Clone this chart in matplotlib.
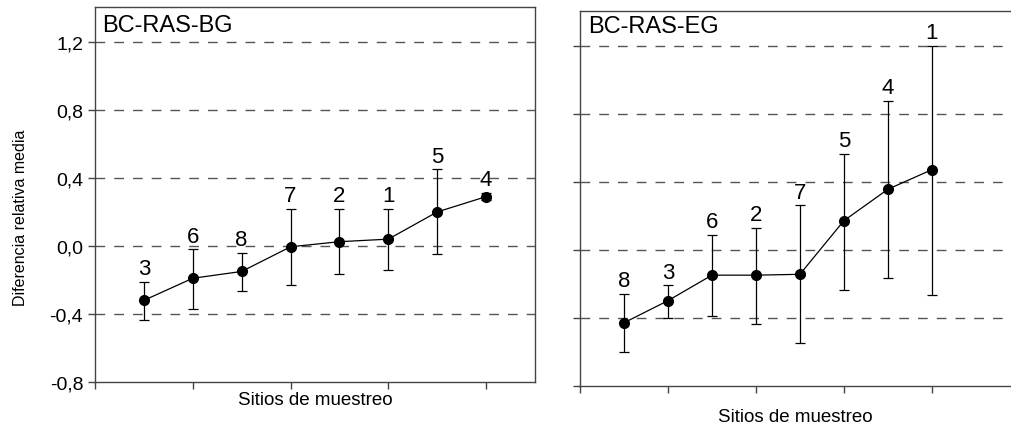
import matplotlib.pyplot as plt
import numpy as np

plt.rcParams['font.family'] = ['Liberation Sans', 'DejaVu Sans']

# datos
sitios_bg = ['3', '6', '8', '7', '2', '1', '5', '4']
media_bg = [-0.32, -0.19, -0.15, -0.005, 0.025, 0.04, 0.20, 0.29]
sup_bg = [-0.21, -0.02, -0.04, 0.22, 0.22, 0.22, 0.45, 0.31]
inf_bg = [-0.435, -0.37, -0.265, -0.23, -0.165, -0.14, -0.05, 0.27]

sitios_eg = ['8', '3', '6', '2', '7', '5', '4', '1']
media_eg = [-0.43, -0.30, -0.15, -0.15, -0.145, 0.17, 0.355, 0.47]
sup_eg = [-0.26, -0.21, 0.085, 0.13, 0.26, 0.565, 0.875, 1.2]
inf_eg = [-0.60, -0.40, -0.39, -0.435, -0.55, -0.235, -0.165, -0.265]

yticks = [-0.8, -0.4, 0.0, 0.4, 0.8, 1.2]
ytick_labels = ['-0,8', '-0,4', '0,0', '0,4', '0,8', '1,2']
xticks = [0, 2, 4, 6, 8]

fig = plt.figure(figsize=(10.11, 4.31), dpi=100)
ax1 = fig.add_axes([95/1011, 48/431, 440/1011, 375/431])
ax2 = fig.add_axes([580/1011, 44.3/431, 431/1011, 375/431])

def panel(ax, titulo, sitios, media, sup, inf, xmax, tpos):
    x = np.arange(1, len(media) + 1)
    media = np.array(media)
    err = [media - np.array(inf), np.array(sup) - media]
    for g in yticks[1:]:
        ax.axhline(g, color='#555555', lw=1.0, ls=(0, (7, 6.5)), zorder=1)
    ax.errorbar(x, media, yerr=err, fmt='o-', color='black', ms=7, lw=0.9,
                elinewidth=0.9, capsize=3.8, capthick=0.9, zorder=3)
    for xi, s, lab in zip(x, sup, sitios):
        ax.annotate(lab, (xi, s), xytext=(0, 2), textcoords='offset points',
                    ha='center', va='bottom', fontsize=16)
    ax.text(tpos[0], tpos[1], titulo, transform=ax.transAxes, ha='left',
            va='baseline', fontsize=17)
    ax.set_xlim(0, xmax)
    ax.set_ylim(-0.8, 1.405)
    ax.set_xticks(xticks)
    ax.set_xticklabels([])
    ax.set_yticks(yticks)
    for sp in ax.spines.values():
        sp.set_color('#444444')
        sp.set_linewidth(1.0)
    ax.tick_params(direction='out', length=5, width=1.0, color='#444444')
    ax.set_xlabel('Sitios de muestreo', fontsize=13.5)

panel(ax1, 'BC-RAS-BG', sitios_bg, media_bg, sup_bg, inf_bg, 9.0, (0.016, 0.937))
ax1.set_yticklabels(ytick_labels, fontsize=14)
ax1.set_ylabel('Diferencia relativa media', fontsize=11.5)
ax1.yaxis.set_label_coords(-0.152, 0.44)
ax1.xaxis.set_label_coords(0.5, -0.024)

panel(ax2, 'BC-RAS-EG', sitios_eg, media_eg, sup_eg, inf_eg, 9.8, (0.019, 0.942))
ax2.set_yticklabels([])
ax2.spines['right'].set_visible(False)
ax2.xaxis.set_label_coords(0.5, -0.06)

fig.savefig('out.png', dpi=100)
